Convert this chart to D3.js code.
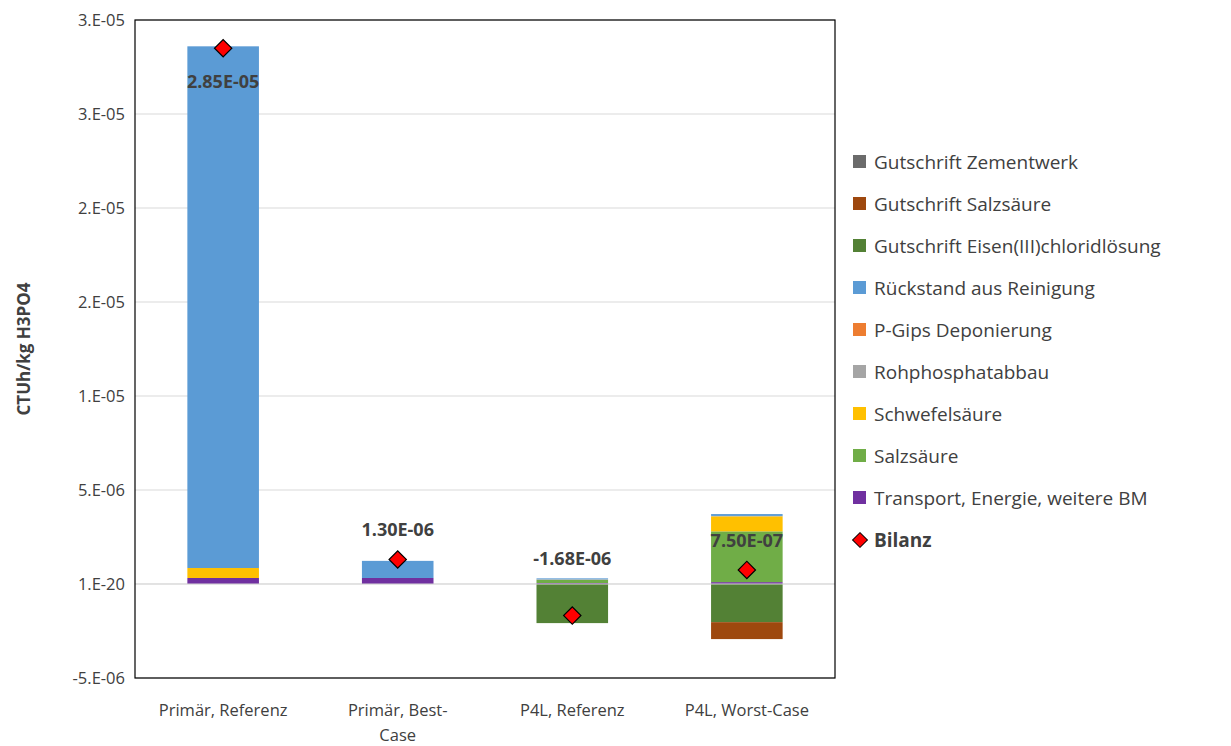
<!DOCTYPE html>
<html><head><meta charset="utf-8">
<script src="https://cdn.jsdelivr.net/npm/d3@7"></script>
<style>body{margin:0;background:#fff;font-family:"Open Sans",sans-serif}</style>
</head><body>
<script>
const categories = ['Primär, Referenz', 'Primär, Best-Case', 'P4L, Referenz', 'P4L, Worst-Case']
const seriesNames = ['Gutschrift Zementwerk', 'Gutschrift Salzsäure', 'Gutschrift Eisen(III)chloridlösung',
  'Rückstand aus Reinigung', 'P-Gips Deponierung', 'Rohphosphatabbau', 'Schwefelsäure', 'Salzsäure',
  'Transport, Energie, weitere BM']
const colors = ['#6b6b6b', '#9e480e', '#538135', '#5b9bd5', '#ed7d31', '#a5a5a5', '#ffc000', '#70ad47', '#7030a0']
const values = {
  'Gutschrift Zementwerk': [0, 0, 0, 0],
  'Gutschrift Salzsäure': [0, 0, 0, -0.9e-6],
  'Gutschrift Eisen(III)chloridlösung': [0, 0, -2.08e-6, -2.03e-6],
  'Rückstand aus Reinigung': [27.75e-6, 0.91e-6, 0.05e-6, 0.1e-6],
  'P-Gips Deponierung': [0, 0, 0, 0],
  'Rohphosphatabbau': [0, 0, 0.03e-6, 0.02e-6],
  'Schwefelsäure': [0.53e-6, 0, 0, 0.8e-6],
  'Salzsäure': [0, 0, 0.17e-6, 2.7e-6],
  'Transport, Energie, weitere BM': [0.32e-6, 0.32e-6, 0.05e-6, 0.1e-6]
}
const bilanz = [2.85e-5, 1.30e-6, -1.68e-6, 7.50e-7]
const bilanzLabels = ['2.85E-05', '1.30E-06', '-1.68E-06', '7.50E-07']
const tickValues = [-5e-6, 0, 5e-6, 10e-6, 15e-6, 20e-6, 25e-6, 30e-6]
const tickLabels = ['-5.E-06', '1.E-20', '5.E-06', '1.E-05', '2.E-05', '2.E-05', '3.E-05', '3.E-05']

const W = 1231, H = 746
const m = {l: 135, r: 396, t: 20, b: 68}
const svg = d3.select('body').append('svg').attr('width', W).attr('height', H)
const x = d3.scaleBand().domain(categories).range([m.l, W - m.r]).paddingInner(0.59).paddingOuter(0.3)
const y = d3.scaleLinear().domain([-5e-6, 30e-6]).range([H - m.b, m.t])

svg.append('g').selectAll('line').data(tickValues).enter().append('line')
  .attr('x1', m.l).attr('x2', W - m.r).attr('y1', d => y(d)).attr('y2', d => y(d))
  .attr('stroke', '#d9d9d9')
svg.append('g').selectAll('text').data(tickValues).enter().append('text')
  .attr('x', m.l - 10).attr('y', d => y(d) + 6).attr('text-anchor', 'end')
  .attr('font-size', 16.5).attr('fill', '#404040').text((d, i) => tickLabels[i])

// stacked bars: positives up from 0, negatives down from 0
const order = ['Transport, Energie, weitere BM', 'Salzsäure', 'Schwefelsäure', 'Rohphosphatabbau',
  'P-Gips Deponierung', 'Rückstand aus Reinigung', 'Gutschrift Eisen(III)chloridlösung',
  'Gutschrift Salzsäure', 'Gutschrift Zementwerk']
const rects = []
categories.forEach((c, i) => {
  let pos = 0, neg = 0
  order.forEach(s => {
    const v = values[s][i]
    if (!v) return
    let y0, y1
    if (v > 0) { y0 = pos; y1 = pos + v; pos = y1 } else { y0 = neg + v; y1 = neg; neg = y0 }
    rects.push({c, y0, y1, color: colors[seriesNames.indexOf(s)]})
  })
})
svg.append('g').selectAll('rect').data(rects).enter().append('rect')
  .attr('x', d => x(d.c)).attr('width', x.bandwidth())
  .attr('y', d => y(d.y1)).attr('height', d => y(d.y0) - y(d.y1)).attr('fill', d => d.color)

svg.append('line').attr('x1', m.l).attr('x2', W - m.r).attr('y1', y(0)).attr('y2', y(0)).attr('stroke', '#d9d9d9')
svg.append('rect').attr('x', m.l).attr('y', m.t).attr('width', W - m.r - m.l).attr('height', H - m.b - m.t)
  .attr('fill', 'none').attr('stroke', '#000').attr('stroke-width', 1.2)

const cx = c => x(c) + x.bandwidth() / 2
svg.append('g').selectAll('path').data(bilanz).enter().append('path')
  .attr('d', d3.symbol(d3.symbolSquare, 150))
  .attr('transform', (d, i) => `translate(${cx(categories[i])},${y(d)}) rotate(45)`)
  .attr('fill', '#ff0000').attr('stroke', '#000').attr('stroke-width', 1.2)
const labelOffset = [40, -24, -51, -23]
svg.append('g').selectAll('text').data(bilanz).enter().append('text')
  .attr('x', (d, i) => cx(categories[i])).attr('y', (d, i) => y(d) + labelOffset[i])
  .attr('text-anchor', 'middle').attr('font-size', 18).attr('font-weight', 'bold').attr('fill', '#404040')
  .text((d, i) => bilanzLabels[i])

const catLines = [['Primär, Referenz'], ['Primär, Best-', 'Case'], ['P4L, Referenz'], ['P4L, Worst-Case']]
categories.forEach((c, i) => {
  const t = svg.append('text').attr('x', cx(c)).attr('y', H - m.b + 38).attr('text-anchor', 'middle')
    .attr('font-size', 16.5).attr('fill', '#404040')
  catLines[i].forEach((l, j) => t.append('tspan').attr('x', cx(c)).attr('dy', j ? 25 : 0).text(l))
})
svg.append('text').attr('transform', `translate(30,${(m.t + H - m.b) / 2}) rotate(-90)`)
  .attr('text-anchor', 'middle').attr('font-size', 17).attr('font-weight', 'bold').attr('fill', '#404040')
  .text('CTUh/kg H3PO4')

const lg = svg.append('g')
seriesNames.forEach((s, i) => {
  const yy = 162 + i * 42
  lg.append('rect').attr('x', 853).attr('y', yy - 7).attr('width', 13).attr('height', 13).attr('fill', colors[i])
  lg.append('text').attr('x', 874).attr('y', yy + 7).attr('font-size', 19).attr('fill', '#404040').text(s)
})
const by = 162 + 9 * 42
lg.append('path').attr('d', d3.symbol(d3.symbolSquare, 110)).attr('transform', `translate(860,${by}) rotate(45)`)
  .attr('fill', '#ff0000').attr('stroke', '#000')
lg.append('text').attr('x', 874).attr('y', by + 7).attr('font-size', 19).attr('font-weight', 'bold').attr('fill', '#404040').text('Bilanz')
</script>
</body></html>
